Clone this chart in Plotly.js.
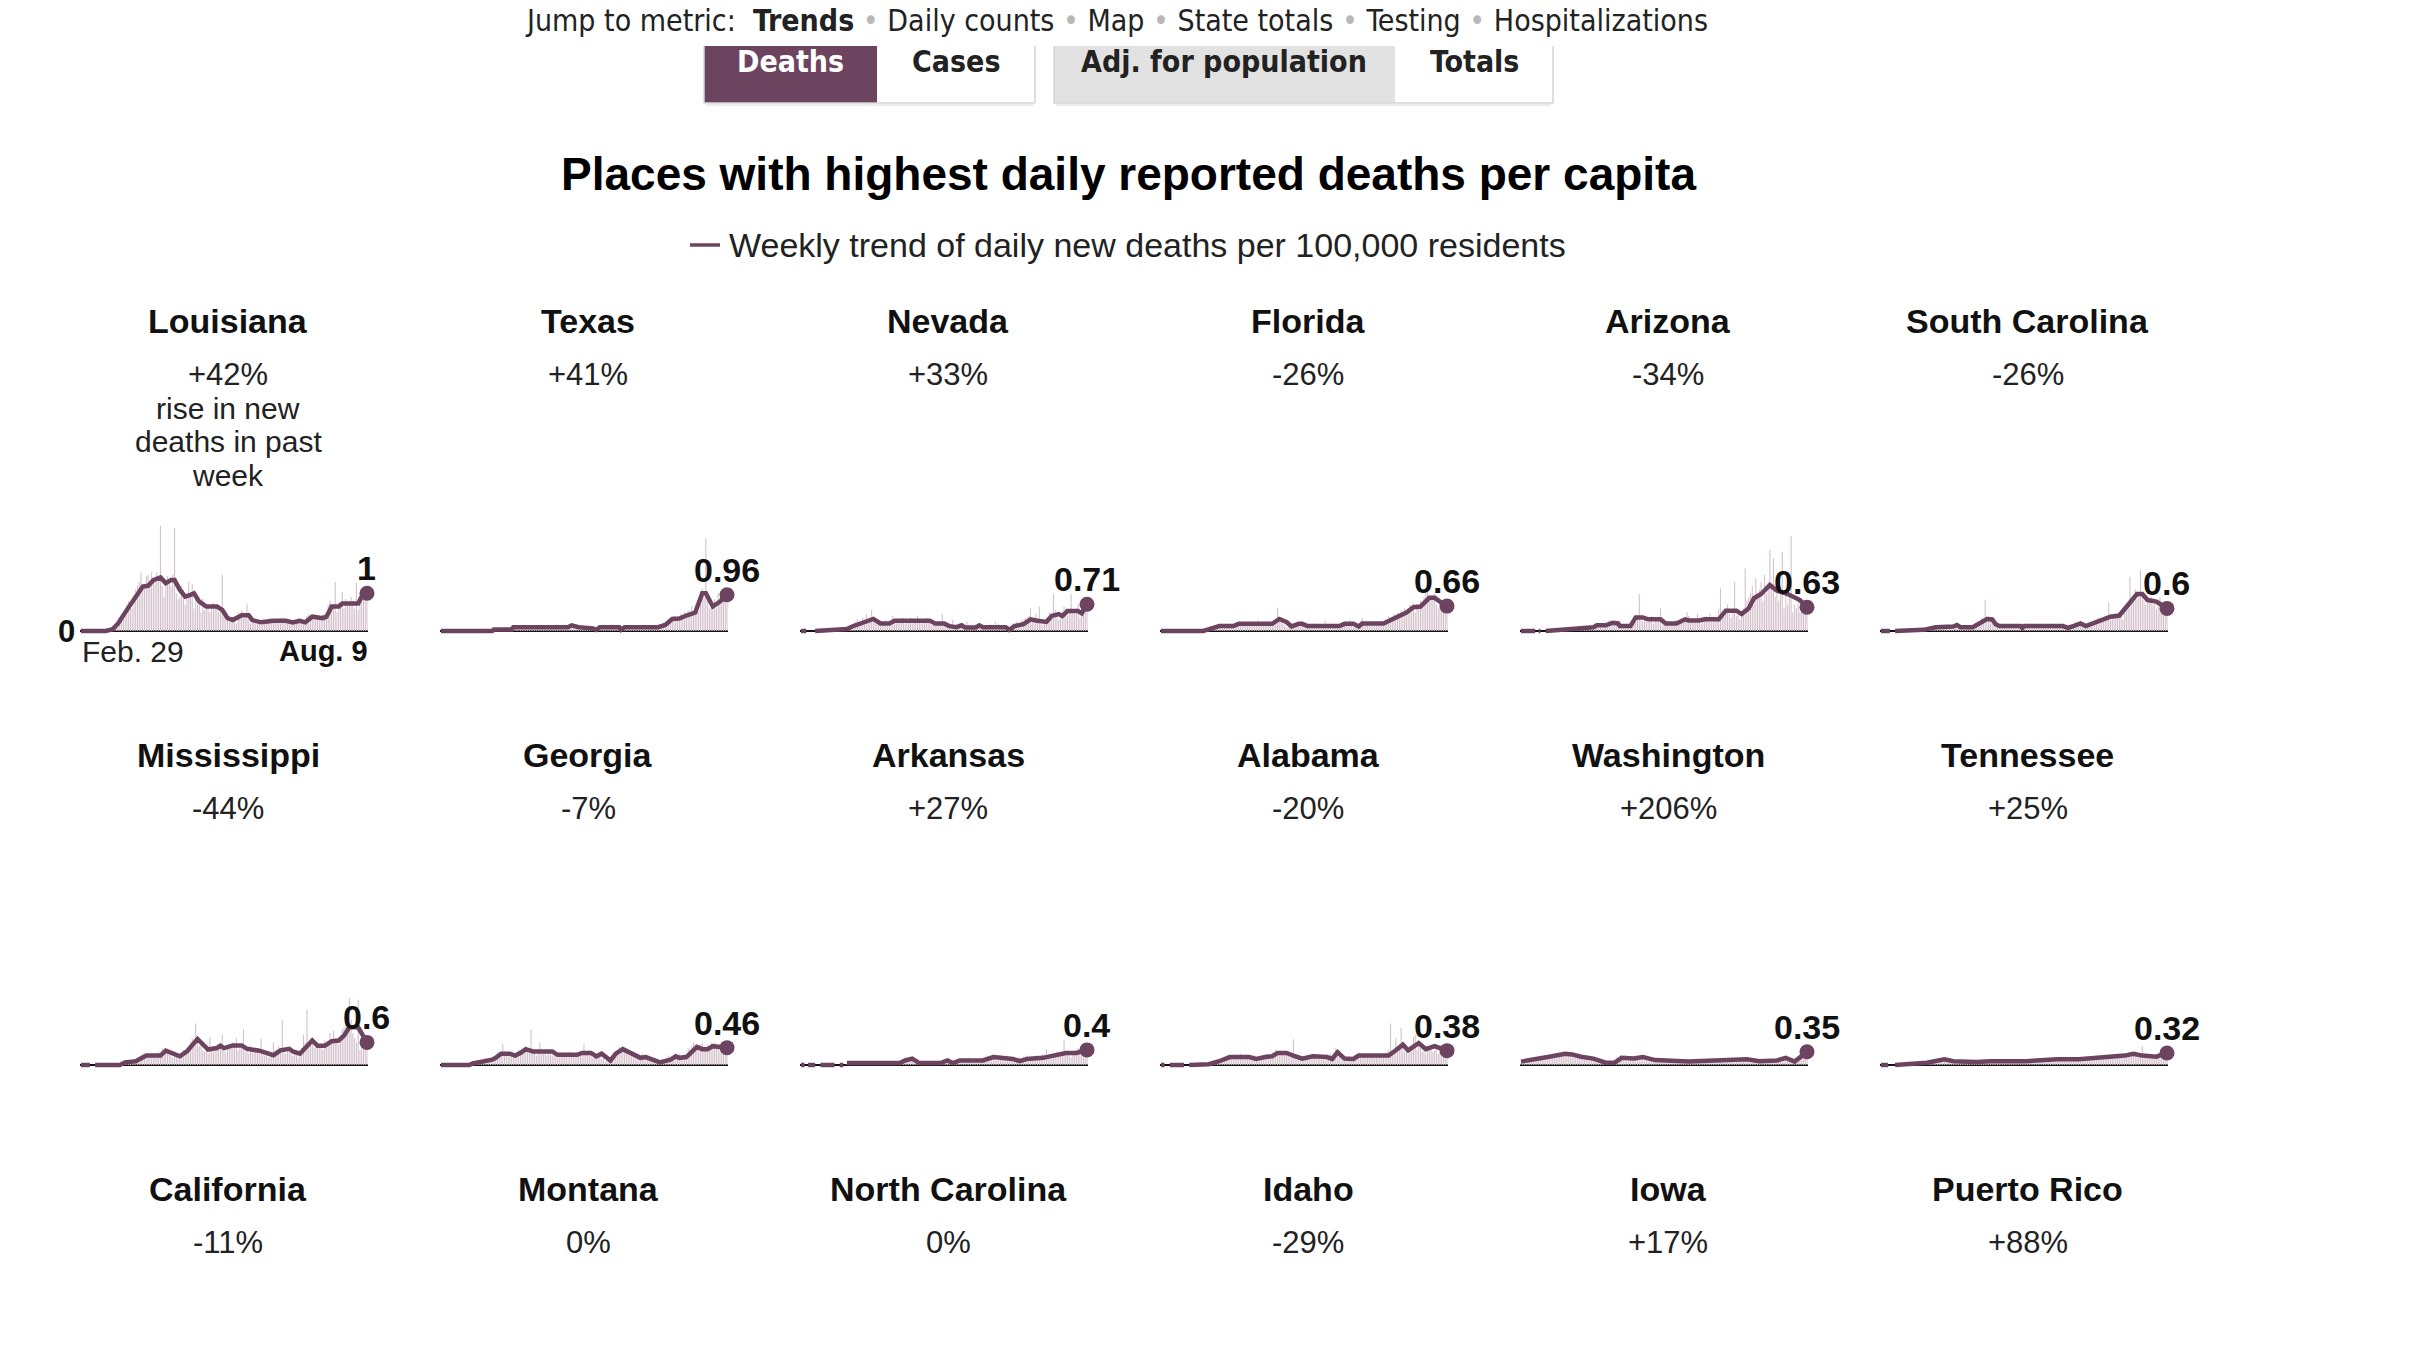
<!DOCTYPE html>
<html><head><meta charset="utf-8">
<script src="https://cdn.plot.ly/plotly-3.0.1.min.js"></script>
<style>html,body{margin:0;padding:0;background:#fff;}#chart{width:2412px;height:1352px;}</style>
</head><body><div id="chart"></div>
<script>
// ---------- DATA ----------
const stateNames = ['Louisiana','Texas','Nevada','Florida','Arizona','South Carolina',
                    'Mississippi','Georgia','Arkansas','Alabama','Washington','Tennessee'];
const weeklyChange = ['+42%','+41%','+33%','-26%','-34%','-26%','-44%','-7%','+27%','-20%','+206%','+25%'];
const latestLabels = ['1','0.96','0.71','0.66','0.63','0.6','0.6','0.46','0.4','0.38','0.35','0.32'];
const row3Names = ['California','Montana','North Carolina','Idaho','Iowa','Puerto Rico'];
const row3Change = ['-11%','0%','0%','-29%','+17%','+88%'];
const navItems = ['Trends','Daily counts','Map','State totals','Testing','Hospitalizations'];
const firstDate = '2020-02-29', lastDateLabel = 'Aug. 9', firstDateLabel = 'Feb. 29';

// daily new deaths per 100k (bars), one value per day Feb 29 .. Aug 9
const laBars = [0,0,0,0,0,0,0, 0,0,0,0,0,0,0, 0,0.02,0.04,0.02,0.09,0.13,0.15, 0.2,0.3,0.28,0.48,0.55,0.7,0.8,
 0.72,0.6,0.95,1.1,1.2,1.3,1.55, 1.1,1.2,1.45,1.5,1.3,1.55,1.35, 1.3,1.55,1.4,2.79,1.2,0.9,1.35, 1.45,1.3,1.2,1.5,2.73,1.0,0.85,
 0.9,1.2,1.1,0.7,0.95,1.3,0.95, 1.25,0.6,0.9,0.7,0.75,0.5,0.85, 0.55,0.7,0.6,0.5,0.7,0.75,0.65, 0.6,0.5,0.55,1.5,0.4,0.3,0.35,
 0.25,0.3,0.35,0.4,0.2,0.5,0.45, 0.55,0.35,0.45,0.73,0.3,0.2,0.3, 0.25,0.2,0.3,0.25,0.15,0.3,0.2, 0.25,0.3,0.35,0.2,0.25,0.3,0.3,
 0.3,0.2,0.35,0.25,0.3,0.2,0.3, 0.2,0.25,0.3,0.2,0.35,0.25,0.2, 0.25,0.3,0.4,0.45,0.35,0.3,0.45, 0.3,0.4,0.35,0.3,0.45,0.35,0.4,
 0.7,0.8,0.6,0.65,1.3,0.5,0.75, 0.7,1.04,0.6,0.85,0.7,0.75,0.9, 0.8,0.6,1.27,0.55,0.9,1.1,0.95, 1.05,1.15];
const txBars = [0,0,0,0,0,0,0, 0,0,0,0,0,0,0, 0,0,0,0,0,0,0, 0,0,0,0,0,0,0,
 0,0.01,0.02,0.03,0.04,0.03,0.05, 0.04,0.06,0.05,0.07,0.06,0.08,0.09, 0.08,0.1,0.12,0.09,0.11,0.1,0.12, 0.1,0.09,0.11,0.12,0.1,0.08,0.11,
 0.09,0.12,0.1,0.11,0.13,0.1,0.09, 0.11,0.1,0.12,0.09,0.1,0.12,0.11, 0.13,0.16,0.18,0.14,0.12,0.15,0.13, 0.1,0.09,0.11,0.1,0.12,0.08,0.1,
 0.06,0.08,0.07,0.05,0.09,0.08,0.1, 0.1,0.12,0.09,0.11,0.1,0.12,0.1, 0.08,0.1,0.11,0.09,0.05,0.08,0.1, 0.11,0.1,0.12,0.09,0.1,0.11,0.1,
 0.09,0.11,0.1,0.12,0.1,0.09,0.11, 0.1,0.12,0.11,0.1,0.13,0.12,0.14, 0.15,0.18,0.22,0.3,0.35,0.28,0.4, 0.3,0.38,0.35,0.45,0.4,0.5,0.42,
 0.55,0.45,0.65,0.5,0.6,0.7,0.55, 0.8,1.13,0.9,2.46,0.8,0.6,0.7, 0.55,0.85,0.6,1.0,0.75,0.8,1.05, 1.1,1.0];
const nvBars = [0,0,0,0,0,0,0, 0,0,0,0,0,0,0, 0,0,0,0,0,0.02,0.03, 0.05,0.03,0.06,0.08,0.05,0.1,0.12,
 0.15,0.1,0.2,0.25,0.3,0.2,0.25, 0.35,0.2,0.45,0.3,0.35,0.56,0.3, 0.25,0.2,0.3,0.15,0.25,0.2,0.3, 0.15,0.2,0.25,0.4,0.3,0.2,0.25,
 0.3,0.25,0.35,0.2,0.3,0.25,0.35, 0.2,0.3,0.25,0.4,0.3,0.2,0.3, 0.25,0.35,0.3,0.2,0.15,0.25,0.2, 0.15,0.2,0.25,0.45,0.2,0.15,0.1,
 0.1,0.15,0.3,0.1,0.05,0.15,0.1, 0.2,0.1,0.15,0.25,0.1,0.12,0.1, 0.15,0.2,0.1,0.15,0.05,0.1,0.15, 0.1,0.15,0.2,0.1,0.15,0.25,0.1,
 0.2,0.1,0.15,0.05,0.1,0.05,0.1, 0.15,0.2,0.1,0.25,0.15,0.2,0.3, 0.2,0.35,0.25,0.4,0.6,0.3,0.25, 0.45,0.3,0.65,0.2,0.15,0.3,0.35,
 0.4,0.5,0.35,0.98,0.55,0.4,0.3, 0.45,0.5,0.65,0.6,0.4,0.55,0.98, 0.5,0.45,0.6,0.7,0.35,0.75,0.8, 0.85,0.7];
const flBars = [0,0,0,0,0,0,0, 0,0,0,0,0,0,0, 0,0,0,0,0,0,0, 0,0,0,0,0.02,0.03,0.04,
 0.05,0.08,0.1,0.12,0.15,0.1,0.14, 0.12,0.15,0.1,0.18,0.14,0.13,0.15, 0.2,0.15,0.25,0.18,0.2,0.22,0.15, 0.18,0.2,0.22,0.25,0.2,0.15,0.3,
 0.2,0.15,0.25,0.22,0.28,0.18,0.2, 0.25,0.3,0.2,0.62,0.35,0.25,0.2, 0.15,0.1,0.12,0.18,0.2,0.15,0.1, 0.2,0.15,0.22,0.2,0.18,0.1,0.15,
 0.12,0.15,0.2,0.1,0.15,0.18,0.1, 0.15,0.12,0.28,0.15,0.1,0.12,0.15, 0.18,0.1,0.15,0.12,0.18,0.22,0.15, 0.25,0.2,0.3,0.15,0.1,0.2,0.12,
 0.18,0.22,0.35,0.2,0.15,0.2,0.18, 0.2,0.15,0.25,0.2,0.18,0.22,0.2, 0.25,0.3,0.2,0.4,0.35,0.3,0.45, 0.35,0.5,0.4,0.55,0.45,0.6,0.5,
 0.55,0.7,0.6,0.75,0.5,0.65,0.7, 0.8,0.6,0.9,1.0,1.09,0.8,0.95, 0.85,1.0,0.7,0.6,0.75,0.65,0.7, 0.6,0.65];
const azBars = [0,0,0,0,0,0,0, 0,0,0,0,0,0,0, 0,0,0,0,0,0,0.01, 0,0.02,0.01,0.03,0.02,0.04,0.03,
 0.05,0.04,0.06,0.08,0.05,0.07,0.06, 0.08,0.06,0.1,0.12,0.08,0.1,0.12, 0.15,0.12,0.2,0.18,0.1,0.15,0.2, 0.22,0.3,0.25,0.2,0.15,0.2,0.25,
 0.12,0.15,0.1,0.18,0.15,0.12,0.2, 0.3,0.4,0.25,0.35,0.98,0.3,0.25, 0.3,0.25,0.35,0.3,0.4,0.2,0.3, 0.25,0.3,0.6,0.15,0.2,0.15,0.2,
 0.15,0.25,0.2,0.3,0.15,0.2,0.25, 0.35,0.3,0.25,0.5,0.4,0.35,0.3, 0.25,0.3,0.45,0.35,0.2,0.3,0.35, 0.4,0.3,0.45,0.25,0.3,0.35,0.3,
 0.6,1.13,0.5,0.4,0.6,0.7,0.45, 0.35,0.5,1.3,0.4,0.55,0.3,0.45, 0.6,1.66,0.8,0.9,1.0,1.2,0.7, 1.4,0.9,1.1,1.3,0.8,1.5,1.0,
 1.3,2.15,1.2,1.93,0.9,1.0,0.8, 1.2,2.1,0.6,1.0,0.7,0.9,2.52, 0.5,0.7,0.6,0.9,0.5,0.65,0.75, 0.8,0.55];
const scBars = [0,0,0,0,0,0,0, 0,0,0,0,0,0,0, 0,0,0,0,0,0,0, 0,0,0.02,0.01,0.03,0.02,0.04,
 0.05,0.08,0.06,0.1,0.12,0.08,0.1, 0.1,0.08,0.12,0.1,0.09,0.11,0.1, 0.15,0.2,0.12,0.1,0.08,0.1,0.12, 0.1,0.12,0.08,0.15,0.2,0.15,0.25,
 0.2,0.35,0.3,0.82,0.35,0.4,0.3, 0.2,0.15,0.12,0.1,0.15,0.12,0.1, 0.12,0.15,0.1,0.18,0.12,0.1,0.14, 0.12,0.1,0.15,0.08,0.12,0.15,0.1,
 0.12,0.14,0.1,0.15,0.12,0.1,0.13, 0.15,0.1,0.12,0.14,0.18,0.1,0.12, 0.12,0.15,0.1,0.13,0.12,0.1,0.05, 0.08,0.15,0.2,0.12,0.18,0.25,0.2,
 0.22,0.18,0.12,0.15,0.1,0.2,0.25, 0.18,0.22,0.3,0.25,0.35,0.28,0.3, 0.35,0.4,0.3,0.75,0.3,0.45,0.4, 0.35,0.45,0.5,0.4,0.3,0.5,0.6,
 0.7,1.44,0.8,0.9,1.1,0.85,1.0, 1.62,0.9,0.8,0.7,0.85,0.75,0.9, 0.7,0.8,0.6,0.75,0.9,0.5,0.55, 0.6,0.5];
const msBars = [0,0,0,0,0,0,0, 0,0,0,0,0,0,0, 0,0,0,0,0,0,0, 0,0.02,0.05,0.08,0.06,0.1,0.08,
 0.1,0.12,0.08,0.15,0.2,0.18,0.25, 0.3,0.2,0.25,0.3,0.22,0.28,0.25, 0.3,0.25,0.35,0.28,0.45,0.4,0.35, 0.3,0.35,0.25,0.2,0.3,0.25,0.2,
 0.25,0.3,0.4,0.35,0.45,0.5,0.6, 0.7,0.6,1.1,0.65,0.5,0.55,0.4, 0.35,0.45,0.3,0.75,0.4,0.35,0.5, 0.55,0.45,0.6,0.8,0.4,0.35,0.5,
 0.55,0.45,0.6,0.5,0.7,0.4,0.45, 0.55,0.94,0.35,0.4,0.3,0.5,0.45, 0.4,0.35,0.45,0.3,0.7,0.35,0.25, 0.3,0.2,0.35,0.25,0.6,0.3,0.35,
 0.5,0.4,1.19,0.35,0.3,0.45,0.35, 0.3,0.25,0.35,0.4,0.2,0.3,0.45, 0.8,0.6,1.47,0.5,0.55,0.7,0.45, 0.5,0.6,0.45,0.55,0.4,0.65,0.5,
 0.6,0.85,0.55,0.9,0.7,0.6,0.55, 0.8,0.95,1.0,1.1,0.9,1.78,1.2, 0.85,0.7,0.6,1.73,0.4,0.5,0.6, 0.55,0.5];
const gaBars = [0,0,0,0,0,0,0, 0,0,0,0,0,0,0, 0,0,0.01,0.02,0.03,0.05,0.04, 0.06,0.08,0.05,0.1,0.12,0.08,0.15,
 0.12,0.18,0.15,0.2,0.22,0.25,0.3, 0.55,0.3,0.25,0.35,0.28,0.3,0.25, 0.3,0.35,0.4,0.3,0.35,0.45,0.5, 0.35,0.3,0.94,0.3,0.35,0.25,0.3,
 0.6,0.35,0.3,0.4,0.25,0.35,0.3, 0.25,0.3,0.35,0.2,0.3,0.25,0.35, 0.3,0.25,0.2,0.35,0.3,0.25,0.2, 0.3,0.35,0.25,0.3,0.55,0.35,0.3,
 0.4,0.3,0.2,0.25,0.3,0.2,0.25, 0.15,0.2,0.1,0.15,0.1,0.2,0.15, 0.3,0.35,0.4,0.48,0.35,0.4,0.45, 0.35,0.3,0.25,0.3,0.25,0.2,0.25,
 0.2,0.25,0.3,0.2,0.15,0.25,0.2, 0.15,0.1,0.12,0.08,0.1,0.12,0.15, 0.1,0.15,0.2,0.25,0.15,0.2,0.3, 0.25,0.2,0.3,0.25,0.2,0.3,0.25,
 0.45,0.4,0.5,0.6,0.55,0.45,0.5, 0.55,0.6,0.5,0.45,0.55,0.4,0.6, 0.5,0.6,0.45,0.5,0.35,0.55,0.5, 0.45,0.5];
const arBars = [0,0,0,0,0,0,0, 0,0,0,0,0,0,0, 0,0,0,0,0,0,0, 0,0,0,0,0,0.02,0.02,
 0.03,0.05,0.04,0.06,0.05,0.04,0.06, 0.05,0.06,0.04,0.05,0.07,0.05,0.06, 0.04,0.06,0.05,0.07,0.05,0.04,0.06, 0.05,0.07,0.06,0.04,0.05,0.06,0.05,
 0.08,0.12,0.15,0.2,0.12,0.18,0.15, 0.12,0.1,0.08,0.06,0.05,0.04,0.06, 0.05,0.06,0.04,0.07,0.05,0.06,0.05, 0.06,0.05,0.08,0.1,0.12,0.09,0.07,
 0.06,0.05,0.08,0.1,0.12,0.15,0.1, 0.12,0.15,0.1,0.13,0.2,0.12,0.1, 0.15,0.12,0.1,0.14,0.12,0.15,0.18, 0.2,0.25,0.18,0.22,0.28,0.2,0.22,
 0.25,0.2,0.15,0.22,0.2,0.25,0.18, 0.2,0.15,0.18,0.12,0.15,0.2,0.18, 0.22,0.18,0.25,0.2,0.15,0.22,0.2, 0.25,0.2,0.22,0.18,0.3,0.25,0.42,
 0.2,0.25,0.3,0.22,0.28,0.35,0.3, 0.25,0.3,0.67,0.25,0.3,0.35,0.2, 0.3,0.4,0.35,0.45,0.38,0.5,0.4, 0.45,0.42];
const alBars = [0,0,0,0,0,0,0, 0,0,0,0,0,0,0, 0,0,0,0,0,0,0, 0,0,0,0,0,0.02,0.02,
 0.05,0.08,0.06,0.1,0.12,0.1,0.15, 0.2,0.18,0.25,0.22,0.2,0.25,0.22, 0.25,0.18,0.2,0.3,0.22,0.25,0.2, 0.18,0.22,0.15,0.2,0.25,0.15,0.18,
 0.2,0.25,0.22,0.18,0.3,0.25,0.22, 0.35,0.3,0.4,0.35,0.3,0.28,0.32, 0.3,0.35,0.25,0.2,0.3,0.68,0.2, 0.15,0.2,0.18,0.15,0.12,0.2,0.25,
 0.2,0.25,0.3,0.22,0.2,0.25,0.2, 0.22,0.18,0.15,0.2,0.15,0.3,0.25, 0.35,0.45,0.3,0.4,0.2,0.15,0.2, 0.15,0.2,0.18,0.15,0.2,0.25,0.3,
 0.25,0.3,0.2,0.25,0.3,0.22,0.28, 0.25,0.3,0.2,0.28,0.25,0.3,0.22, 0.3,0.25,0.35,0.4,1.1,0.3,0.35, 0.7,0.5,0.4,0.98,0.45,0.35,0.4,
 0.3,0.5,0.45,0.75,0.8,0.4,0.5, 0.45,0.35,0.4,0.3,0.5,0.45,0.4, 0.35,0.4,0.45,0.3,0.35,0.4,0.38, 0.35,0.4];
const waBars = [0.05,0.1,0.08,0.12,0.1,0.15,0.12, 0.15,0.12,0.18,0.15,0.2,0.15,0.18, 0.2,0.22,0.25,0.18,0.2,0.28,0.25, 0.3,0.25,0.35,0.28,0.3,0.32,0.25,
 0.3,0.35,0.25,0.2,0.22,0.18,0.2, 0.15,0.2,0.18,0.15,0.12,0.18,0.15, 0.1,0.08,0.05,0.06,0.08,0.05,0.04, 0.05,0.08,0.06,0.1,0.15,0.2,0.18,
 0.22,0.2,0.18,0.25,0.2,0.15,0.18, 0.2,0.22,0.25,0.2,0.18,0.15,0.2, 0.12,0.15,0.1,0.12,0.15,0.1,0.12, 0.1,0.08,0.12,0.09,0.1,0.11,0.08,
 0.09,0.1,0.08,0.12,0.1,0.09,0.08, 0.1,0.12,0.09,0.08,0.1,0.11,0.09, 0.08,0.1,0.12,0.09,0.1,0.08,0.09, 0.1,0.09,0.08,0.11,0.1,0.09,0.12,
 0.09,0.1,0.11,0.08,0.1,0.12,0.09, 0.1,0.11,0.09,0.12,0.1,0.13,0.15, 0.14,0.16,0.15,0.13,0.1,0.12,0.11, 0.1,0.12,0.09,0.11,0.1,0.12,0.13,
 0.12,0.11,0.13,0.12,0.14,0.15,0.18, 0.2,0.18,0.22,0.17,0.12,0.1,0.08, 0.09,0.1,0.12,0.2,0.28,0.35,0.42, 0.4,0.45];
const tnBars = [0,0,0,0,0,0,0, 0,0,0,0,0,0,0, 0,0,0,0,0,0,0, 0,0,0,0,0,0.02,0.02,
 0.03,0.05,0.08,0.06,0.1,0.08,0.12, 0.15,0.12,0.18,0.14,0.1,0.12,0.15, 0.12,0.1,0.14,0.12,0.1,0.13,0.11, 0.08,0.1,0.07,0.09,0.08,0.1,0.07,
 0.09,0.1,0.12,0.08,0.11,0.1,0.09, 0.1,0.12,0.09,0.11,0.1,0.08,0.12, 0.1,0.09,0.11,0.12,0.1,0.09,0.1, 0.11,0.1,0.09,0.12,0.1,0.11,0.1,
 0.12,0.1,0.11,0.09,0.13,0.1,0.12, 0.11,0.13,0.12,0.1,0.14,0.12,0.11, 0.13,0.15,0.12,0.16,0.14,0.13,0.15, 0.14,0.16,0.15,0.13,0.17,0.15,0.16,
 0.15,0.17,0.16,0.14,0.18,0.16,0.15, 0.18,0.2,0.17,0.19,0.21,0.18,0.2, 0.22,0.25,0.2,0.26,0.23,0.24,0.22, 0.25,0.28,0.24,0.26,0.27,0.23,0.25,
 0.28,0.32,0.3,0.27,0.35,0.3,0.29, 0.26,0.5,0.24,0.22,0.25,0.2,0.23, 0.22,0.25,0.28,0.26,0.3,0.33,0.35, 0.32,0.3];

// weekly trend line: day offsets from Feb 29 and values (null = gap)
const laTrendDay = [0,14,18,21,26,31,35,38,41,45,48,51,53,56,59,62,64,67,71,77,80,83,86,91,95,97,102,109,116,120,124,127,131,137,139,142,146,148,154,157,159,162];
const laTrendVal = [0,0,0.05,0.2,0.56,0.91,1.18,1.2,1.35,1.42,1.27,1.35,1.35,1.09,0.91,0.96,1.0,0.78,0.65,0.65,0.56,0.34,0.29,0.42,0.42,0.29,0.23,0.27,0.27,0.23,0.27,0.23,0.38,0.34,0.38,0.65,0.65,0.73,0.73,0.73,0.91,1.0];
const txTrendDay = [0,29,30,40,41,72,74,78,86,88,90,101,102,104,123,127,131,135,139,144,148,150,154,158,162];
const txTrendVal = [0,0,0.04,0.04,0.1,0.1,0.15,0.1,0.07,0.03,0.1,0.1,0.03,0.1,0.1,0.16,0.32,0.33,0.41,0.49,1.0,1.0,0.65,0.78,0.96];
const nvTrendDay = [0,3,4,8,21,26,29,33,37,41,45,50,53,73,76,81,84,88,91,93,99,101,103,116,118,121,126,130,134,139,142,146,148,151,157,159,162];
const nvTrendVal = [0,0,null,0,0.05,0.05,0.12,0.19,0.27,0.32,0.2,0.2,0.27,0.27,0.2,0.2,0.13,0.1,0.15,0.09,0.09,0.15,0.1,0.1,0.03,0.13,0.18,0.31,0.27,0.24,0.4,0.45,0.4,0.53,0.53,0.47,0.71];
const flTrendDay = [0,24,26,33,41,44,63,67,71,74,78,80,83,101,104,109,112,114,126,130,135,139,143,147,152,155,158,162];
const flTrendVal = [0,0,0.03,0.13,0.13,0.19,0.19,0.32,0.24,0.12,0.19,0.19,0.13,0.13,0.19,0.19,0.12,0.2,0.2,0.29,0.42,0.49,0.63,0.65,0.88,0.88,0.78,0.66];
const azTrendDay = [0,8,9,10,11,12,14,24,31,41,43,48,52,55,56,62,65,69,72,79,82,88,93,95,101,104,112,116,122,125,129,132,136,141,145,151,158,162];
const azTrendVal = [0,0,null,0,0,null,0,0.03,0.07,0.1,0.15,0.15,0.22,0.2,0.13,0.13,0.36,0.36,0.31,0.31,0.2,0.2,0.31,0.28,0.28,0.31,0.31,0.54,0.54,0.45,0.6,0.87,0.98,1.22,1.07,0.98,0.82,0.63];
const scTrendDay = [0,5,6,8,24,31,41,43,45,52,56,60,63,65,67,79,80,81,103,106,109,113,116,120,124,130,135,141,145,148,151,156,162];
const scTrendVal = [0,0,null,0,0.03,0.1,0.12,0.16,0.1,0.1,0.2,0.32,0.31,0.18,0.13,0.13,0.08,0.13,0.13,0.08,0.13,0.2,0.13,0.2,0.29,0.38,0.41,0.73,0.98,0.98,0.82,0.78,0.6];
const msTrendDay = [0,5,6,8,22,25,31,37,45,48,52,56,60,66,72,77,79,81,86,91,94,101,105,109,113,118,120,124,131,134,138,142,146,149,152,157,162];
const msTrendVal = [0,0,null,0,0,0.07,0.1,0.25,0.25,0.38,0.32,0.23,0.36,0.69,0.41,0.45,0.51,0.45,0.52,0.52,0.43,0.38,0.32,0.26,0.39,0.43,0.36,0.3,0.65,0.51,0.51,0.63,0.65,0.78,1.0,1.0,0.6];
const gaTrendDay = [0,16,18,24,29,31,34,39,42,45,48,52,57,63,66,77,80,85,88,91,96,99,103,107,113,116,120,124,130,133,135,139,145,148,151,154,162];
const gaTrendVal = [0,0,0.04,0.08,0.14,0.19,0.3,0.3,0.25,0.32,0.42,0.36,0.36,0.36,0.27,0.27,0.32,0.32,0.23,0.3,0.12,0.3,0.42,0.32,0.19,0.21,0.14,0.07,0.14,0.23,0.19,0.21,0.48,0.42,0.42,0.5,0.46];
const arTrendDay = [0,2,3,4,8,9,11,19,20,22,24,25,26,56,59,63,67,79,83,86,90,103,109,113,120,124,128,137,141,147,150,156,162];
const arTrendVal = [0,0,null,0,0,null,0,0,null,0,0,null,0.05,0.05,0.12,0.17,0.05,0.05,0.12,0.05,0.12,0.12,0.21,0.19,0.16,0.1,0.16,0.19,0.23,0.27,0.32,0.32,0.4];
const alTrendDay = [0,2,3,5,13,14,16,27,33,39,50,54,59,63,66,71,75,80,86,94,97,100,104,109,112,129,133,137,140,146,150,155,162];
const alTrendVal = [0,0,null,0,0,null,0,0.02,0.1,0.21,0.21,0.16,0.21,0.23,0.32,0.32,0.25,0.17,0.23,0.21,0.16,0.34,0.17,0.16,0.25,0.25,0.39,0.54,0.39,0.58,0.42,0.5,0.38];
const waTrendDay = [0,9,16,25,29,34,41,48,53,57,64,69,76,95,128,135,145,150,155,162];
const waTrendVal = [0.09,0.15,0.22,0.3,0.28,0.22,0.17,0.06,0.06,0.19,0.17,0.21,0.13,0.09,0.15,0.1,0.12,0.19,0.09,0.35];
const tnTrendDay = [0,4,5,8,26,36,41,54,62,82,100,112,120,128,138,143,148,156,162];
const tnTrendVal = [0,0,null,0,0.06,0.15,0.1,0.08,0.1,0.1,0.15,0.15,0.18,0.24,0.25,0.3,0.25,0.22,0.32];

// ---------- BUILD ----------
const allBars = [laBars,txBars,nvBars,flBars,azBars,scBars,msBars,gaBars,arBars,alBars,waBars,tnBars];
const allTrendDay = [laTrendDay,txTrendDay,nvTrendDay,flTrendDay,azTrendDay,scTrendDay,msTrendDay,gaTrendDay,arTrendDay,alTrendDay,waTrendDay,tnTrendDay];
const allTrendVal = [laTrendVal,txTrendVal,nvTrendVal,flTrendVal,azTrendVal,scTrendVal,msTrendVal,gaTrendVal,arTrendVal,alTrendVal,waTrendVal,tnTrendVal];

const W = 2412, H = 1352;
const PURPLE = '#6d4460', BARC = '#d2bfc9', INK = '#111111';
const SANS = '"Liberation Sans", Arial, sans-serif';
const NARROW = '"Liberation Sans Narrow", "DejaVu Sans Condensed", "Roboto Condensed", sans-serif';
const px = x => x / W, py = y => 1 - y / H;
const START = Date.parse(firstDate + 'T00:00:00Z');
const dstr = d => { const s = new Date(START + d * 86400000).toISOString(); return s.slice(0,10) + ' ' + s.slice(11,19); };

const data = [], annotations = [], shapes = [];
const layout = {
  width: W, height: H, margin: {l:0, r:0, t:0, b:0},
  paper_bgcolor: '#ffffff', plot_bgcolor: 'rgba(0,0,0,0)',
  showlegend: false, bargap: 0.4, font: {family: SANS, color: INK},
  annotations, shapes
};

const PXDAY = (367 - 81) / 162, UNIT = 37.7;
stateNames.forEach((name, i) => {
  const bars = allBars[i];
  if (bars.length !== 163) throw new Error(name + ' bars length ' + bars.length);
  if (allTrendDay[i].length !== allTrendVal[i].length) throw new Error(name + ' trend mismatch');
  const r = Math.floor(i / 6), c = i % 6, n = i + 1, sfx = n === 1 ? '' : String(n);
  const x0 = 81 + 360 * c, base = 631 + 434 * r;
  layout['xaxis' + sfx] = {
    domain: [px(x0 - 0.5 * PXDAY), px(x0 + 162.5 * PXDAY)], anchor: 'y' + sfx,
    type: 'date', range: [dstr(-0.5), dstr(162.5)],
    showgrid: false, zeroline: false, showticklabels: false, ticks: '', showline: false
  };
  layout['yaxis' + sfx] = {
    domain: [py(base + 0.1 * UNIT), py(base - 2.9 * UNIT)], anchor: 'x' + sfx,
    range: [-0.1, 2.9], showgrid: false, showticklabels: false, ticks: '', showline: false,
    zeroline: true, zerolinecolor: INK, zerolinewidth: 2.5
  };
  const xa = 'x' + sfx, ya = 'y' + sfx;
  data.push({type: 'bar', x: bars.map((_, d) => dstr(d)), y: bars, xaxis: xa, yaxis: ya,
             marker: {color: BARC, line: {width: 0}}, hoverinfo: 'skip'});
  const td = allTrendDay[i], tv = allTrendVal[i];
  data.push({type: 'scatter', mode: 'lines', x: td.map(dstr), y: tv, xaxis: xa, yaxis: ya,
             connectgaps: false, line: {color: PURPLE, width: 4.5}, hoverinfo: 'skip'});
  const ld = td[td.length - 1], lv = tv[tv.length - 1];
  data.push({type: 'scatter', mode: 'markers', x: [dstr(ld)], y: [lv], xaxis: xa, yaxis: ya,
             cliponaxis: false, marker: {color: PURPLE, size: 15}, hoverinfo: 'skip'});
  annotations.push({xref: xa, yref: ya, x: dstr(ld), y: lv, yshift: 25, showarrow: false,
    text: '<b>' + latestLabels[i] + '</b>', font: {size: 34, color: INK, family: SANS}, xanchor: 'center', yanchor: 'middle'});
  // headers
  const cx = 228 + 360 * c;
  annotations.push({xref: 'paper', yref: 'paper', x: px(cx), y: py(321 + 434 * r), showarrow: false,
    text: '<b>' + name + '</b>', font: {size: 34, color: INK, family: SANS}, xanchor: 'center', yanchor: 'middle'});
  annotations.push({xref: 'paper', yref: 'paper', x: px(cx), y: py(374 + 434 * r), showarrow: false,
    text: weeklyChange[i], font: {size: 31, color: '#222', family: SANS}, xanchor: 'center', yanchor: 'middle'});
});

// Third row headers (charts off-screen)
row3Names.forEach((name, c) => {
  const cx = 228 + 360 * c;
  annotations.push({xref: 'paper', yref: 'paper', x: px(cx), y: py(1189), showarrow: false,
    text: '<b>' + name + '</b>', font: {size: 34, color: INK, family: SANS}, xanchor: 'center', yanchor: 'middle'});
  annotations.push({xref: 'paper', yref: 'paper', x: px(cx), y: py(1242), showarrow: false,
    text: row3Change[c], font: {size: 31, color: '#222', family: SANS}, xanchor: 'center', yanchor: 'middle'});
});

// Louisiana explanatory text and axis labels
['rise in new', 'deaths in past', 'week'].forEach((t, k) => {
  annotations.push({xref: 'paper', yref: 'paper', x: px(228), y: py(408 + 33.5 * k), showarrow: false,
    text: t, font: {size: 30, color: '#222', family: SANS}, xanchor: 'center', yanchor: 'middle'});
});
annotations.push({xref: 'paper', yref: 'paper', x: px(77), y: py(631), showarrow: false, text: '<b>0</b>',
  font: {size: 31, color: INK, family: SANS}, xanchor: 'right', yanchor: 'middle'});
annotations.push({xref: 'paper', yref: 'paper', x: px(80), y: py(651), showarrow: false, text: firstDateLabel,
  font: {size: 30, color: '#222', family: SANS}, xanchor: 'left', yanchor: 'middle'});
annotations.push({xref: 'paper', yref: 'paper', x: px(370), y: py(651), showarrow: false, text: '<b>' + lastDateLabel + '</b>',
  font: {size: 29, color: INK, family: SANS}, xanchor: 'right', yanchor: 'middle'});

// Nav line
const dot = ' <span style="color:#b8b8b8">•</span> ';
annotations.push({xref: 'paper', yref: 'paper', x: px(1116), y: py(21), showarrow: false,
  text: 'Jump to metric:  <b>' + navItems[0] + '</b>' + dot + navItems.slice(1).join(dot),
  font: {size: 30, color: '#222', family: NARROW}, xanchor: 'center', yanchor: 'middle'});

// Toggle buttons
const btns = [
  {x0: 704, x1: 877, fill: PURPLE, label: 'Deaths', color: '#ffffff'},
  {x0: 877, x1: 1035, fill: '#ffffff', label: 'Cases', color: '#222'},
  {x0: 1054, x1: 1395, fill: '#e2e2e2', label: 'Adj. for population', color: '#222'},
  {x0: 1395, x1: 1553, fill: '#ffffff', label: 'Totals', color: '#222'}
];
btns.forEach(b => {
  shapes.push({type: 'rect', xref: 'paper', yref: 'paper', x0: px(b.x0), x1: px(b.x1), y0: py(103), y1: py(46),
    fillcolor: b.fill, line: {width: 0}});
  annotations.push({xref: 'paper', yref: 'paper', x: px((b.x0 + b.x1) / 2), y: py(61), showarrow: false,
    text: '<b>' + b.label + '</b>', font: {size: 30, color: b.color, family: NARROW}, xanchor: 'center', yanchor: 'middle'});
});
[[704, 1035], [1054, 1553]].forEach(([a, b]) => {
  const ln = {color: '#d4d4d4', width: 1.5};
  shapes.push({type: 'line', xref: 'paper', yref: 'paper', x0: px(a), x1: px(a), y0: py(46), y1: py(103), line: ln});
  shapes.push({type: 'line', xref: 'paper', yref: 'paper', x0: px(b), x1: px(b), y0: py(46), y1: py(103), line: ln});
  shapes.push({type: 'line', xref: 'paper', yref: 'paper', x0: px(a), x1: px(b), y0: py(103), y1: py(103), line: ln});
  shapes.push({type: 'line', xref: 'paper', yref: 'paper', x0: px(a + 2), x1: px(b - 2), y0: py(105), y1: py(105), line: {color: '#ececec', width: 2}});
});

// Title and legend
annotations.push({xref: 'paper', yref: 'paper', x: px(1128), y: py(174), showarrow: false,
  text: '<b>Places with highest daily reported deaths per capita</b>', font: {size: 46, color: '#000', family: SANS},
  xanchor: 'center', yanchor: 'middle'});
shapes.push({type: 'line', xref: 'paper', yref: 'paper', x0: px(690), x1: px(720), y0: py(245), y1: py(245),
  line: {color: PURPLE, width: 3.5}});
annotations.push({xref: 'paper', yref: 'paper', x: px(727), y: py(245), showarrow: false,
  text: 'Weekly trend of daily new deaths per 100,000 residents', font: {size: 34, color: '#222', family: SANS},
  xanchor: 'left', yanchor: 'middle'});

Plotly.newPlot('chart', data, layout, {displayModeBar: false, staticPlot: true});
</script>
</body></html>
